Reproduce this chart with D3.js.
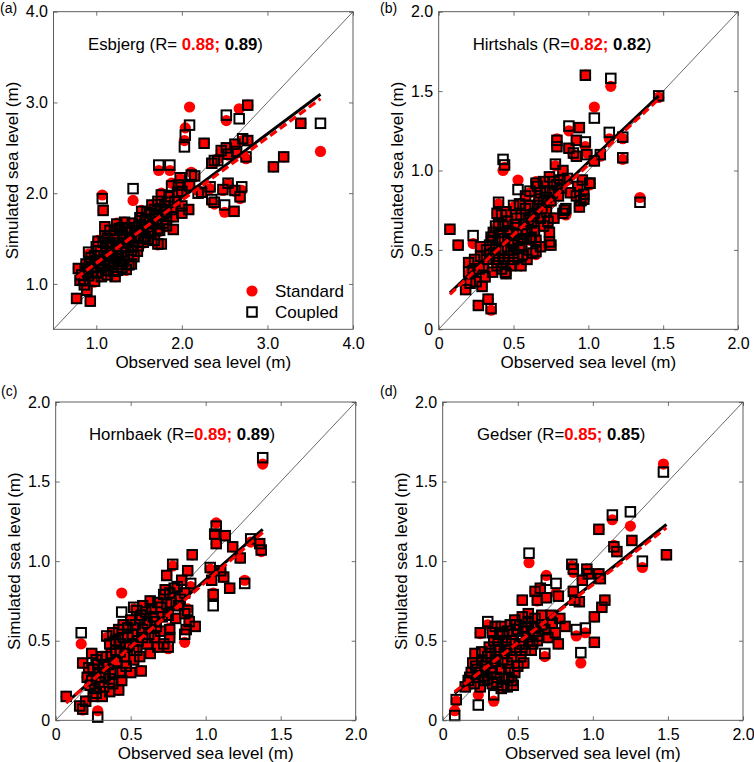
<!DOCTYPE html>
<html><head><meta charset="utf-8">
<script src="https://cdn.jsdelivr.net/npm/d3@7"></script>
<style>
body{margin:0;background:#fff}
svg{display:block}
text{font-family:"Liberation Sans",Arial,Helvetica,sans-serif}
</style>
</head><body>
<svg id="chart" width="754" height="762"></svg>
<script>
// ---------- data: [observed, standard, coupled] ----------
const esbjergPts = [
[2.09,2.95,2.75],[2.04,2.72,2.64],[2.03,2.58,2.51],[2.52,2.80,2.86],[2.67,2.93,2.82],[2.77,2.97,2.97],[3.39,2.77,2.77],[3.62,2.46,2.77],[2.26,2.55,2.55],
[2.46,2.46,2.47],[2.52,2.49,2.50],[2.62,2.53,2.54],[2.71,2.58,2.60],[2.77,2.58,2.58],[2.54,2.42,2.43],[2.64,2.44,2.46],[2.75,2.38,2.40],
[3.07,2.29,2.29],[3.19,2.40,2.40],[1.73,2.25,2.31],[1.86,2.25,2.31],[1.98,2.16,2.17],[2.11,2.23,2.20],[2.15,2.18,2.19],[1.88,2.11,2.08],
[2.35,2.33,2.33],[2.38,2.34,2.36],[2.42,2.38,2.36],[2.00,2.03,2.02],[2.09,2.09,2.08],[2.19,2.03,2.00],[2.23,2.01,2.01],
[2.33,2.05,2.07],[2.48,2.03,2.04],[2.62,2.02,2.03],[2.70,2.03,2.07],[2.54,2.10,2.11],[2.35,1.90,1.93],[2.38,1.88,1.90],
[2.50,1.79,1.87],[2.61,1.80,1.80],[2.68,1.94,1.96],[2.08,1.82,1.82],[1.43,1.92,2.05],[1.07,1.98,1.94],[1.08,1.81,1.81],[1.10,1.63,1.63],
[0.91,1.33,1.35],[0.77,0.84,0.84],[0.93,0.81,0.81],[0.79,1.17,1.17],[0.81,1.04,1.04],[0.89,0.93,0.93],[0.98,1.02,1.03],
[1.02,1.48,1.47],[1.10,1.52,1.53],[1.16,1.59,1.59],[1.24,1.67,1.66],[1.30,1.61,1.62],[1.33,1.68,1.68],[1.39,1.56,1.57],[1.45,1.63,1.62],
[1.51,1.72,1.73],[1.53,1.81,1.80],[1.59,1.78,1.79],[1.65,1.87,1.87],[1.68,1.81,1.82],[1.72,1.90,1.91],[1.76,2.00,1.98],[1.80,1.85,1.86],
[1.84,1.89,1.90],[1.88,1.81,1.82],[1.90,1.74,1.74],[1.53,1.63,1.64],[1.57,1.52,1.52],[1.61,1.56,1.57],[1.68,1.48,1.48],[1.72,1.43,1.44],
[1.76,1.44,1.44],[1.02,1.22,1.23],[1.10,1.26,1.27],[1.18,1.30,1.30],[1.24,1.37,1.38],[1.30,1.41,1.41],[1.35,1.48,1.49],[1.41,1.37,1.37],
[1.49,1.41,1.42],[0.98,1.30,1.31],[0.95,1.19,1.19],[1.06,1.08,1.08],[1.22,1.08,1.08],[1.35,1.15,1.16],[1.41,1.22,1.22],[0.87,1.15,1.16],
[0.91,1.08,1.09],[1.14,1.15,1.15],[1.28,1.21,1.22],[1.18,1.41,1.42],[1.49,1.52,1.53],[1.57,1.67,1.68],
[1.00,1.12,1.12],[1.05,1.35,1.36],[1.12,1.40,1.40],[1.20,1.20,1.21],[1.26,1.30,1.31],[1.32,1.25,1.25],[1.38,1.45,1.46],[1.44,1.30,1.30],
[1.46,1.50,1.51],[1.55,1.45,1.46],[1.62,1.70,1.71],[1.70,1.65,1.66],[1.78,1.75,1.76],[1.85,1.95,1.96],[1.92,1.90,1.91],[1.95,2.00,2.01],
[0.85,1.05,1.05],[0.92,1.22,1.23],[0.96,1.12,1.13],[1.15,1.25,1.25],[1.25,1.15,1.15],[1.63,1.62,1.63],[1.74,1.58,1.59],[1.82,1.70,1.71],
[2.00,1.85,1.86],[1.96,2.08,2.09],[2.00,1.78,1.78],[1.90,1.60,1.60],[1.82,1.63,1.64],
[1.00,1.40,1.41],[1.04,1.30,1.31],[1.08,1.45,1.46],[1.12,1.33,1.34],[1.13,1.50,1.50],[1.16,1.22,1.23],[1.19,1.36,1.36],[1.21,1.52,1.53],
[1.23,1.27,1.28],[1.26,1.45,1.45],[1.27,1.60,1.61],[1.29,1.35,1.35],[1.31,1.52,1.53],[1.34,1.40,1.40],[1.36,1.60,1.61],[1.37,1.30,1.31],
[1.40,1.50,1.51],[1.42,1.66,1.67],[1.43,1.42,1.42],[1.47,1.58,1.59],[1.48,1.35,1.36],[1.50,1.64,1.65],[1.52,1.50,1.50],[1.55,1.58,1.59],
[1.58,1.70,1.71],[1.60,1.48,1.49],[1.62,1.77,1.78],[1.64,1.55,1.56],[1.66,1.66,1.67],[1.70,1.74,1.75],[1.72,1.60,1.61],[1.75,1.82,1.83],
[1.78,1.66,1.67],[1.82,1.78,1.79],[0.88,1.22,1.22],[0.90,1.12,1.13],[0.94,1.28,1.29],[0.97,1.18,1.18],[1.00,1.25,1.26],[0.83,1.10,1.10],
[0.86,0.98,0.99],[1.05,1.17,1.18],[1.09,1.19,1.20],[1.13,1.10,1.10],[1.20,1.13,1.14],[1.30,1.18,1.18],[1.38,1.20,1.21],[1.16,1.45,1.45],
[1.22,1.58,1.59]
];
const hirtshalsPts = [
[0.98,1.60,1.60],[1.15,1.53,1.58],[1.04,1.40,1.33],[1.47,1.46,1.47],[0.87,1.25,1.28],[0.94,1.27,1.27],[0.92,1.19,1.19],[0.98,1.15,1.18],
[1.14,1.20,1.24],[1.23,1.20,1.21],[1.23,1.07,1.08],[1.345,0.83,0.80],[0.79,1.20,1.19],[0.79,1.15,1.15],[0.87,1.14,1.14],[0.90,1.10,1.11],
[0.92,1.09,1.09],[0.99,1.11,1.10],[1.04,1.06,1.06],[1.08,1.09,1.10],[0.43,1.00,1.07],[0.44,1.02,1.035],[0.53,0.94,0.88],[0.40,0.79,0.80],
[0.075,0.63,0.63],[0.13,0.53,0.53],[0.23,0.54,0.59],[0.265,0.15,0.15],[0.33,0.19,0.19],[0.35,0.12,0.13],[0.20,0.35,0.36],[0.18,0.25,0.25],
[0.21,0.29,0.29],[0.29,0.27,0.27],[0.31,0.33,0.33],[0.85,0.72,0.76],[0.95,0.80,0.81],[0.97,0.85,0.85],[0.96,0.94,0.94],[1.01,0.91,0.92],
[0.75,0.53,0.53],[0.65,0.47,0.49],[0.94,0.77,0.77],[0.97,0.81,0.82],[1.01,0.92,0.92],[0.93,0.90,0.90],[0.92,0.84,0.84],[0.84,0.75,0.75],
[0.83,0.73,0.73],[0.65,0.93,0.92],
[0.39,0.73,0.73],[0.42,0.71,0.72],[0.45,0.74,0.74],[0.50,0.77,0.78],[0.54,0.79,0.79],[0.58,0.84,0.84],[0.61,0.86,0.87],[0.66,0.90,0.90],
[0.70,0.92,0.93],[0.74,0.96,0.96],[0.68,0.86,0.86],[0.72,0.82,0.83],[0.76,0.86,0.86],[0.79,0.90,0.91],[0.81,0.94,0.94],[0.83,1.00,1.00],
[0.78,1.03,1.04],[0.365,0.61,0.61],[0.40,0.56,0.57],[0.43,0.65,0.65],[0.48,0.61,0.61],[0.50,0.52,0.53],[0.53,0.56,0.56],[0.57,0.65,0.66],
[0.60,0.69,0.69],[0.63,0.71,0.71],[0.68,0.69,0.70],[0.70,0.65,0.65],[0.74,0.61,0.61],[0.74,0.55,0.55],[0.68,0.52,0.52],[0.63,0.48,0.48],
[0.59,0.44,0.44],[0.53,0.44,0.45],[0.48,0.40,0.40],[0.43,0.42,0.42],[0.40,0.44,0.44],[0.365,0.48,0.48],[0.34,0.52,0.53],[0.32,0.44,0.44],
[0.28,0.46,0.46],[0.45,0.35,0.35],[0.50,0.48,0.48],[0.555,0.52,0.52],[0.61,0.56,0.57],[0.28,0.52,0.52],[0.23,0.37,0.37],[0.24,0.44,0.44],
[0.20,0.42,0.42],[0.35,0.58,0.58],[0.38,0.64,0.65],[0.46,0.68,0.68],[0.52,0.70,0.70],[0.56,0.60,0.60],[0.64,0.62,0.62],[0.66,0.78,0.78],
[0.72,0.74,0.74],[0.46,0.50,0.50],[0.42,0.38,0.38],[0.36,0.36,0.36],[0.55,0.40,0.40],[0.62,0.58,0.58],[0.70,0.80,0.80],[0.77,0.70,0.70],
[0.30,0.40,0.40],[0.32,0.50,0.50],[0.34,0.46,0.47],[0.36,0.56,0.56],[0.38,0.50,0.51],[0.39,0.40,0.40],[0.41,0.60,0.61],[0.42,0.50,0.50],
[0.44,0.56,0.57],[0.445,0.36,0.36],[0.46,0.62,0.62],[0.47,0.45,0.46],[0.49,0.55,0.55],[0.51,0.66,0.66],[0.52,0.60,0.60],[0.54,0.50,0.51],
[0.55,0.72,0.72],[0.57,0.56,0.57],[0.58,0.76,0.76],[0.59,0.62,0.62],[0.61,0.78,0.78],[0.62,0.66,0.67],[0.64,0.72,0.73],[0.65,0.56,0.56],
[0.67,0.82,0.82],[0.69,0.76,0.76],[0.71,0.86,0.87],[0.73,0.68,0.68],[0.75,0.80,0.81],[0.77,0.93,0.93],[0.80,0.84,0.84],[0.82,0.88,0.89],
[0.86,0.94,0.95],[0.88,0.86,0.86],[0.40,0.66,0.66],[0.44,0.44,0.44],[0.50,0.43,0.44],[0.56,0.47,0.47],[0.27,0.38,0.38],[0.25,0.30,0.30]
];
const hornbaekPts = [
[1.38,1.61,1.65],[1.07,1.24,1.22],[1.06,1.17,1.17],[1.07,1.11,1.11],[1.13,1.16,1.16],[1.18,1.09,1.09],[1.30,1.12,1.14],[1.36,1.11,1.11],
[1.37,1.06,1.07],[1.23,1.02,1.02],[1.26,0.88,0.86],[1.16,0.83,0.83],[1.05,0.78,0.72],[1.05,0.80,0.79],[1.03,0.95,0.96],[1.04,0.88,0.88],
[1.10,0.94,0.94],[1.12,0.90,0.90],[0.91,1.04,1.04],[0.88,0.94,0.94],[0.78,0.97,0.98],[0.74,0.91,0.91],[0.44,0.80,0.68],[0.52,0.70,0.71],
[0.17,0.48,0.55],[0.28,0.06,0.02],[0.07,0.15,0.15],[0.16,0.09,0.09],[0.18,0.065,0.07],[0.24,0.42,0.42],
[0.18,0.36,0.36],[0.21,0.27,0.27],[0.25,0.32,0.32],[0.27,0.38,0.38],[0.30,0.27,0.27],[0.32,0.34,0.34],[0.34,0.40,0.40],[0.36,0.48,0.48],
[0.34,0.52,0.53],[0.38,0.55,0.55],[0.42,0.57,0.57],[0.45,0.60,0.60],[0.50,0.63,0.63],[0.54,0.69,0.69],[0.58,0.72,0.72],[0.63,0.75,0.75],
[0.57,0.66,0.66],[0.61,0.61,0.61],[0.65,0.65,0.65],[0.70,0.71,0.71],[0.72,0.78,0.79],[0.76,0.80,0.80],[0.81,0.84,0.84],[0.83,0.76,0.76],
[0.86,0.67,0.67],[0.87,0.57,0.57],[0.93,0.59,0.59],[0.76,0.52,0.52],[0.72,0.48,0.48],[0.66,0.52,0.52],[0.61,0.48,0.48],[0.54,0.44,0.44],
[0.52,0.38,0.38],[0.47,0.34,0.34],[0.43,0.30,0.30],[0.38,0.23,0.23],[0.42,0.19,0.19],[0.36,0.18,0.18],[0.32,0.21,0.21],[0.27,0.17,0.17],
[0.25,0.15,0.15],[0.31,0.15,0.15],[0.57,0.31,0.31],[0.56,0.40,0.40],[0.63,0.42,0.42],[0.47,0.46,0.46],[0.43,0.48,0.48],[0.74,0.73,0.73],
[0.67,0.59,0.59],[0.86,0.49,0.54],[0.88,0.70,0.69],[0.90,0.84,0.86],[0.80,0.64,0.64],[0.68,0.46,0.46],[0.75,0.45,0.46],[0.76,0.58,0.57],
[0.58,0.52,0.52],[0.48,0.52,0.53],[0.40,0.44,0.44],[0.29,0.30,0.30],[0.23,0.22,0.22],[0.20,0.12,0.12],
[0.22,0.33,0.33],[0.24,0.25,0.25],[0.26,0.20,0.20],[0.28,0.35,0.35],[0.29,0.24,0.24],[0.31,0.40,0.40],[0.33,0.28,0.28],[0.35,0.35,0.35],
[0.37,0.42,0.42],[0.38,0.30,0.30],[0.40,0.50,0.50],[0.41,0.37,0.37],[0.43,0.43,0.43],[0.45,0.52,0.52],[0.46,0.40,0.40],[0.48,0.58,0.58],
[0.49,0.47,0.47],[0.51,0.54,0.54],[0.52,0.44,0.44],[0.53,0.60,0.60],[0.55,0.50,0.50],[0.56,0.64,0.64],[0.58,0.57,0.57],[0.60,0.68,0.68],
[0.62,0.54,0.54],[0.64,0.70,0.70],[0.66,0.62,0.62],[0.68,0.74,0.74],[0.70,0.56,0.56],[0.71,0.65,0.65],[0.73,0.82,0.82],[0.75,0.66,0.66],
[0.77,0.74,0.74],[0.79,0.82,0.83],[0.82,0.72,0.72],[0.84,0.88,0.88],[0.86,0.80,0.80],[0.89,0.62,0.62],[0.36,0.26,0.26],[0.44,0.25,0.25],
[0.50,0.30,0.30]
];
const gedserPts = [
[1.47,1.61,1.56],[1.25,1.22,1.31],[1.13,1.26,1.29],[1.04,1.20,1.20],[1.49,1.04,1.04],[1.14,1.10,1.09],[1.16,1.06,1.06],[1.26,1.13,1.13],
[1.33,0.96,1.00],[0.575,0.99,1.05],[0.86,0.97,0.98],[0.87,0.93,0.95],[0.96,0.95,0.95],[0.97,0.92,0.92],[1.04,0.92,0.92],[1.05,0.89,0.89],
[0.93,0.88,0.88],[0.69,0.91,0.88],[0.755,0.80,0.86],[0.65,0.83,0.83],[0.615,0.81,0.81],[0.63,0.75,0.755],[0.53,0.755,0.755],[0.69,0.77,0.77],
[0.77,0.78,0.78],[0.87,0.81,0.81],[0.88,0.755,0.755],[0.91,0.745,0.745],[1.08,0.755,0.755],[1.06,0.71,0.71],[1.01,0.65,0.65],[1.01,0.49,0.49],
[0.92,0.36,0.425],[0.95,0.55,0.58],[0.89,0.53,0.57],[0.815,0.59,0.59],[0.77,0.48,0.48],[0.68,0.40,0.42],[0.25,0.545,0.55],[0.30,0.60,0.62],
[0.237,0.16,0.096],[0.09,0.12,0.13],[0.08,0.06,0.03],[0.34,0.12,0.16],
[0.15,0.21,0.21],[0.17,0.25,0.25],[0.19,0.30,0.30],[0.23,0.32,0.32],[0.215,0.42,0.42],[0.26,0.38,0.38],[0.28,0.34,0.34],[0.30,0.40,0.40],
[0.35,0.44,0.44],[0.37,0.50,0.50],[0.40,0.55,0.55],[0.45,0.60,0.60],[0.48,0.63,0.63],[0.53,0.65,0.65],[0.57,0.67,0.67],[0.615,0.64,0.64],
[0.66,0.66,0.66],[0.59,0.59,0.59],[0.56,0.525,0.525],[0.53,0.48,0.48],[0.49,0.44,0.44],[0.46,0.40,0.40],[0.43,0.36,0.36],[0.39,0.32,0.32],
[0.36,0.27,0.27],[0.33,0.23,0.23],[0.44,0.27,0.27],[0.47,0.22,0.22],[0.43,0.21,0.21],[0.39,0.20,0.20],[0.28,0.25,0.25],[0.25,0.21,0.21],
[0.35,0.59,0.59],[0.33,0.55,0.55],[0.39,0.59,0.59],[0.63,0.50,0.50],[0.68,0.57,0.57],[0.73,0.61,0.61],[0.78,0.64,0.64],[0.46,0.50,0.50],
[0.50,0.57,0.57],[0.59,0.44,0.44],[0.54,0.36,0.36],[0.20,0.36,0.36],[0.24,0.27,0.27],[0.32,0.30,0.30],[0.41,0.42,0.42],[0.50,0.34,0.34],
[0.38,0.44,0.44],[0.42,0.50,0.50],[0.55,0.58,0.58],[0.60,0.55,0.55],[0.31,0.46,0.46],
[0.18,0.27,0.27],[0.21,0.23,0.23],[0.22,0.34,0.34],[0.24,0.30,0.30],[0.26,0.43,0.43],[0.27,0.28,0.28],[0.29,0.36,0.36],[0.30,0.26,0.26],
[0.32,0.42,0.42],[0.33,0.33,0.33],[0.34,0.50,0.50],[0.35,0.37,0.37],[0.36,0.24,0.24],[0.37,0.46,0.46],[0.38,0.54,0.54],[0.40,0.38,0.38],
[0.41,0.26,0.26],[0.42,0.46,0.46],[0.43,0.56,0.56],[0.44,0.32,0.32],[0.45,0.44,0.44],[0.47,0.54,0.54],[0.48,0.30,0.30],[0.49,0.60,0.60],
[0.51,0.48,0.48],[0.52,0.40,0.40],[0.54,0.56,0.56],[0.55,0.44,0.44],[0.57,0.62,0.62],[0.58,0.50,0.50],[0.60,0.48,0.48],[0.62,0.58,0.58],
[0.64,0.53,0.53],[0.66,0.60,0.60],[0.70,0.52,0.52],[0.72,0.66,0.66],[0.75,0.55,0.55],[0.46,0.25,0.25],[0.40,0.22,0.22]
];

// fitted lines: [[x0,y0],[x1,y1]]
const esbjergFitStd   = [[0.77,1.07],[3.62,3.04]];
const esbjergFitCpl   = [[0.77,1.08],[3.62,3.09]];
const hirtshalsFitStd = [[0.075,0.22],[1.47,1.45]];
const hirtshalsFitCpl = [[0.075,0.23],[1.47,1.47]];
const hornbaekFitStd  = [[0.07,0.11],[1.38,1.18]];
const hornbaekFitCpl  = [[0.07,0.11],[1.38,1.20]];
const gedserFitStd    = [[0.08,0.18],[1.49,1.21]];
const gedserFitCpl    = [[0.08,0.17],[1.49,1.23]];

const esbjergDomain = [0.5, 4.0];
const otherDomain   = [0, 2.0];
const esbjergTicks  = [1, 2, 3, 4];
const esbjergTickLabels = ["1.0","2.0","3.0","4.0"];
const otherTicks    = [0, 0.5, 1, 1.5, 2];
const otherTickLabels = ["0","0.5","1.0","1.5","2.0"];

const stations = ["Esbjerg","Hirtshals","Hornbaek","Gedser"];
const panelLabels = ["(a)","(b)","(c)","(d)"];
const rStandard = ["0.88","0.82","0.89","0.85"];
const rCoupled  = ["0.89","0.82","0.89","0.85"];
const legendLabels = ["Standard","Coupled"];

// ---------- layout ----------
const panels = [
  {pts: esbjergPts,   fs: esbjergFitStd,   fc: esbjergFitCpl,   dom: esbjergDomain, ticks: esbjergTicks, tl: esbjergTickLabels,
   box:{l:53.5,t:11.7,r:353,b:329.3}, lab:{x:0,y:13}, title:{x:88,y:49.5}, sep:"R= ", ylab:18},
  {pts: hirtshalsPts, fs: hirtshalsFitStd, fc: hirtshalsFitCpl, dom: otherDomain, ticks: otherTicks, tl: otherTickLabels,
   box:{l:438.7,t:11.7,r:738,b:329.3}, lab:{x:380,y:13}, title:{x:472.7,y:49.5}, sep:"R=", ylab:403},
  {pts: hornbaekPts,  fs: hornbaekFitStd,  fc: hornbaekFitCpl,  dom: otherDomain, ticks: otherTicks, tl: otherTickLabels,
   box:{l:55.7,t:402,r:355.7,b:720.3}, lab:{x:1,y:396}, title:{x:89,y:439.5}, sep:"R=", ylab:20},
  {pts: gedserPts,    fs: gedserFitStd,    fc: gedserFitCpl,    dom: otherDomain, ticks: otherTicks, tl: otherTickLabels,
   box:{l:442.7,t:402,r:743,b:720.3}, lab:{x:380,y:396}, title:{x:477,y:439.5}, sep:"R=", ylab:407}
];

const svg = d3.select("#chart");
const RED = "#ff0000";
const AX = "#4d4d4d";

panels.forEach((p, i) => {
  const x = d3.scaleLinear().domain(p.dom).range([p.box.l, p.box.r]);
  const y = d3.scaleLinear().domain(p.dom).range([p.box.b, p.box.t]);
  const g = svg.append("g");
  const fmt = d => p.tl[p.ticks.indexOf(d)];

  // 1:1 line
  g.append("line")
    .attr("x1", x(p.dom[0])).attr("y1", y(p.dom[0]))
    .attr("x2", x(p.dom[1])).attr("y2", y(p.dom[1]))
    .attr("stroke", "#000").attr("stroke-width", 0.6);

  // standard: red circles
  g.append("g").selectAll("circle").data(p.pts).join("circle")
    .attr("cx", d => x(d[0])).attr("cy", d => y(d[1])).attr("r", 5.6)
    .attr("fill", RED);

  // coupled: open squares
  const s = 9.5;
  g.append("g").selectAll("rect").data(p.pts).join("rect")
    .attr("x", d => x(d[0]) - s/2).attr("y", d => y(d[2]) - s/2)
    .attr("width", s).attr("height", s)
    .attr("fill", "none").attr("stroke", "#000").attr("stroke-width", 2);

  // fit lines
  const line = d3.line().x(d => x(d[0])).y(d => y(d[1]));
  g.append("path").attr("d", line(p.fc)).attr("stroke", "#000").attr("stroke-width", 3).attr("fill", "none");
  g.append("path").attr("d", line(p.fs)).attr("stroke", RED).attr("stroke-width", 3.2)
    .attr("stroke-dasharray", "8,4").attr("fill", "none");

  // axes (inward ticks)
  const styleAxis = sel => {
    sel.select(".domain").remove();
    sel.selectAll(".tick line").attr("stroke", AX).attr("stroke-width", 0.8);
    sel.selectAll("text").attr("font-size", 16).attr("fill", "#000")
      .attr("font-family", '"Liberation Sans",Arial,sans-serif');
  };
  g.append("g").attr("transform", `translate(0,${p.box.b})`)
    .call(d3.axisBottom(x).tickValues(p.ticks).tickFormat(fmt).tickSize(-4).tickPadding(8.5)).call(styleAxis);
  g.append("g").attr("transform", `translate(0,${p.box.t})`)
    .call(d3.axisTop(x).tickValues(p.ticks).tickFormat("").tickSize(-4)).call(styleAxis);
  g.append("g").attr("transform", `translate(${p.box.l},0)`)
    .call(d3.axisLeft(y).tickValues(p.ticks).tickFormat(fmt).tickSize(-4).tickPadding(5.5)).call(styleAxis);
  g.append("g").attr("transform", `translate(${p.box.r},0)`)
    .call(d3.axisRight(y).tickValues(p.ticks).tickFormat("").tickSize(-4)).call(styleAxis);

  g.append("rect")
    .attr("x", p.box.l).attr("y", p.box.t)
    .attr("width", p.box.r - p.box.l).attr("height", p.box.b - p.box.t)
    .attr("fill", "none").attr("stroke", AX).attr("stroke-width", 0.9);

  // axis labels
  g.append("text").attr("x", (p.box.l + p.box.r)/2).attr("y", p.box.b + 38.5)
    .attr("text-anchor", "middle").attr("font-size", 17).text("Observed sea level (m)");
  g.append("text")
    .attr("transform", `translate(${p.ylab},${(p.box.t + p.box.b)/2}) rotate(-90)`)
    .attr("text-anchor", "middle").attr("font-size", 17).text("Simulated sea level (m)");

  // panel label
  g.append("text").attr("x", p.lab.x).attr("y", p.lab.y).attr("font-size", 14).text(panelLabels[i]);

  // title
  const t = g.append("text").attr("x", p.title.x).attr("y", p.title.y).attr("font-size", 16.8);
  t.append("tspan").text(stations[i] + " (" + p.sep);
  t.append("tspan").attr("fill", RED).attr("font-weight", "bold").text(rStandard[i] + ";");
  t.append("tspan").attr("font-weight", "bold").text(" " + rCoupled[i]);
  t.append("tspan").text(")");

  // legend (panel a only)
  if (i === 0) {
    g.append("circle").attr("cx", 252).attr("cy", 291).attr("r", 5.6).attr("fill", RED);
    g.append("rect").attr("x", 252 - s/2).attr("y", 312 - s/2).attr("width", s).attr("height", s)
      .attr("fill", "none").attr("stroke", "#000").attr("stroke-width", 2);
    g.append("text").attr("x", 275).attr("y", 297).attr("font-size", 17).text(legendLabels[0]);
    g.append("text").attr("x", 275).attr("y", 318).attr("font-size", 17).text(legendLabels[1]);
  }
});
</script>
</body></html>
